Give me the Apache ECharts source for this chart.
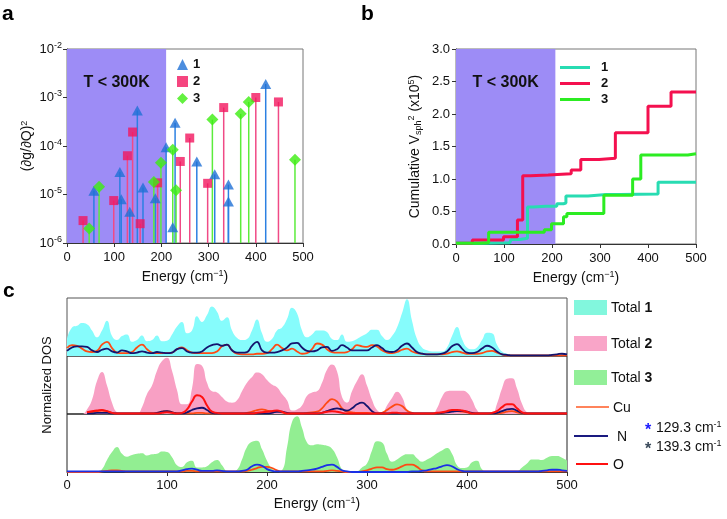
<!DOCTYPE html>
<html><head><meta charset="utf-8">
<script src="https://cdn.jsdelivr.net/npm/echarts@6/dist/echarts.min.js"></script>
<style>html,body{margin:0;padding:0;background:#fff}#c{width:727px;height:519px}</style>
</head><body><div id="c"></div>
<script>
const FONT = 'Liberation Sans, Arial, sans-serif';

// ---------- Panel a: (dg/dQ)^2 stems ----------
const a1Energy = [57,112,115,133,149,161,187,210,224,229,275,313,342,342,421];
const a1Value  = [1.2e-5,2.9e-5,8e-6,4.4e-6,5.4e-4,1.4e-5,8.4e-6,9.4e-5,2.1e-6,3e-4,4.8e-5,2.6e-5,1.6e-5,7.2e-6,1.9e-3];
const a2Energy = [34,99,128,139,155,192,240,260,298,332,400,448];
const a2Value  = [2.9e-6,7.5e-6,6.3e-5,1.94e-4,2.5e-6,1.74e-5,4.8e-5,1.46e-4,1.7e-5,6.2e-4,1.0e-3,8.1e-4];
const a3Energy = [47,68,184,199,224,231,308,368,385,483];
const a3Value  = [2e-6,1.44e-5,1.8e-5,4.5e-5,8.4e-5,1.23e-5,3.5e-4,4.6e-4,8.1e-4,5.2e-5];
const aYMin = 1e-6, aYMax = 1e-2;
const shadeEndA = 210;

// ---------- Panel b: cumulative Vsph^2 ----------
const b1Energy = [0,57,112,115,133,149,161,187,210,224,229,275,313,342,421,500];
const b1Cum    = [0.01,0.02,0.05,0.07,0.09,0.57,0.58,0.58,0.62,0.63,0.74,0.76,0.76,0.77,0.95,0.95];
const b2Energy = [0,34,99,128,139,155,192,240,260,298,332,400,448,500];
const b2Cum    = [0.01,0.06,0.11,0.37,1.05,1.06,1.08,1.14,1.30,1.32,1.71,2.12,2.34,2.34];
const b3Energy = [0,47,68,184,199,224,231,308,368,385,483,500];
const b3Cum    = [0.01,0.02,0.18,0.22,0.31,0.42,0.47,0.75,1.00,1.37,1.39,1.39];
const shadeEndB = 207;

// ---------- Panel c: normalized DOS ----------
const dosEnergy = [0,5,10,15,20,25,30,35,40,45,50,55,60,65,70,75,80,85,90,95,100,105,110,115,120,125,130,135,140,145,150,155,160,165,170,175,180,185,190,195,200,205,210,215,220,225,230,235,240,245,250,255,260,265,270,275,280,285,290,295,300,305,310,315,320,325,330,335,340,345,350,355,360,365,370,375,380,385,390,395,400,405,410,415,420,425,430,435,440,445,450,455,460,465,470,475,480,485,490,495,500];
const total1 = [0.30,0.50,0.53,0.58,0.56,0.45,0.33,0.45,0.62,0.35,0.28,0.35,0.38,0.25,0.28,0.36,0.26,0.28,0.36,0.26,0.27,0.38,0.52,0.60,0.40,0.45,0.70,0.60,0.72,0.87,0.78,0.62,0.68,0.45,0.32,0.28,0.30,0.45,0.64,0.40,0.25,0.30,0.45,0.50,0.65,0.85,0.75,0.45,0.33,0.38,0.45,0.45,0.42,0.30,0.28,0.38,0.25,0.26,0.30,0.35,0.40,0.46,0.46,0.35,0.28,0.35,0.50,0.75,1.00,0.62,0.30,0.15,0.10,0.08,0.08,0.08,0.15,0.35,0.51,0.30,0.15,0.12,0.15,0.28,0.41,0.40,0.20,0.08,0.04,0.02,0.01,0.01,0.01,0.01,0.01,0.01,0.01,0.01,0.01,0.01,0.01];
const total2 = [0,0,0,0,0.08,0.25,0.58,0.74,0.50,0.20,0.03,0,0,0,0,0.12,0.35,0.50,0.76,0.93,0.99,0.76,0.42,0.17,0.17,0.45,0.88,0.85,0.55,0.40,0.38,0.30,0.22,0.20,0.24,0.40,0.55,0.65,0.73,0.70,0.60,0.52,0.47,0.35,0.24,0.06,0.08,0.15,0.32,0.38,0.40,0.55,0.78,0.87,0.75,0.30,0.20,0.40,0.58,0.70,0.50,0.25,0.07,0.02,0.15,0.28,0.39,0.30,0.08,0,0,0,0,0,0.10,0.30,0.40,0.41,0.41,0.41,0.38,0.25,0.07,0,0,0,0.18,0.45,0.62,0.63,0.45,0.18,0.03,0,0,0,0,0,0,0,0];
const total3 = [0,0,0,0,0,0,0,0.05,0.21,0.35,0.44,0.32,0.27,0.30,0.32,0.33,0.29,0.31,0.32,0.36,0.35,0.26,0.12,0.09,0.17,0.20,0.08,0.08,0.10,0.17,0.21,0.12,0.02,0.01,0.04,0.22,0.44,0.53,0.55,0.40,0.20,0.06,0.01,0.03,0.43,0.88,0.98,0.78,0.52,0.47,0.49,0.48,0.46,0.41,0.26,0.05,0,0,0.01,0.08,0.15,0.38,0.54,0.52,0.32,0.18,0.22,0.28,0.31,0.31,0.24,0.18,0.22,0.27,0.33,0.38,0.42,0.32,0.12,0.07,0.08,0.17,0.20,0.05,0,0,0,0,0,0,0.01,0.08,0.15,0.22,0.22,0.21,0.25,0.28,0.28,0.25,0.20];
const cu1 = [0.14,0.19,0.18,0.13,0.08,0.07,0.09,0.20,0.25,0.14,0.06,0.05,0.05,0.07,0.15,0.20,0.12,0.06,0.05,0.05,0.05,0.06,0.12,0.15,0.10,0.06,0.05,0.05,0.05,0.05,0.08,0.17,0.20,0.10,0.04,0.03,0.03,0.03,0.04,0.04,0.05,0.12,0.20,0.14,0.10,0.13,0.08,0.04,0.05,0.12,0.22,0.20,0.12,0.07,0.06,0.06,0.07,0.12,0.19,0.17,0.16,0.19,0.17,0.10,0.06,0.05,0.07,0.11,0.13,0.08,0.05,0.04,0.03,0.03,0.03,0.03,0.04,0.07,0.08,0.06,0.04,0.04,0.04,0.05,0.08,0.09,0.06,0.03,0.01,0.01,0.01,0.01,0.01,0.01,0.01,0.01,0.01,0.01,0.01,0.01,0.01];
const n1 = [0.09,0.15,0.17,0.17,0.16,0.10,0.07,0.11,0.13,0.08,0.06,0.10,0.08,0.05,0.06,0.08,0.06,0.05,0.07,0.06,0.05,0.06,0.12,0.14,0.08,0.06,0.06,0.08,0.15,0.19,0.21,0.18,0.20,0.10,0.06,0.06,0.07,0.18,0.25,0.10,0.06,0.06,0.07,0.10,0.15,0.22,0.23,0.15,0.09,0.08,0.10,0.15,0.16,0.09,0.12,0.19,0.15,0.10,0.10,0.10,0.10,0.15,0.19,0.14,0.08,0.07,0.10,0.18,0.22,0.15,0.07,0.04,0.03,0.03,0.03,0.04,0.08,0.17,0.21,0.13,0.06,0.05,0.07,0.13,0.18,0.15,0.08,0.03,0.02,0.01,0.01,0.01,0.01,0.01,0.01,0.01,0.01,0.02,0.03,0.04,0.03];
const cu2 = [null,null,null,null,0.02,0.03,0.05,0.06,0.05,0.02,0.01,0.01,0.01,0.01,0.01,0.01,0.01,0.01,0.02,0.04,0.05,0.03,0.01,0.01,0.01,0.01,0.02,0.02,0.01,0.01,0.01,0.01,0.01,0.01,0.01,0.01,0.02,0.04,0.07,0.08,0.06,0.05,0.05,0.03,0.01,0.01,0.01,0.01,0.02,0.03,0.04,0.10,0.20,0.26,0.22,0.10,0.04,0.03,0.02,0.02,0.02,0.01,0.01,0.02,0.07,0.13,0.17,0.14,0.06,0.02,0.01,0.01,0.01,0.01,0.01,0.02,0.04,0.05,0.05,0.04,0.03,0.01,0.01,0.01,0.01,0.01,0.01,0.02,0.04,0.05,0.03,0.01,0.01,0.01,0.01,0.01,0.01,0.01,0.01,0.01,0.01];
const o2 = [null,null,null,null,0.03,0.05,0.06,0.07,0.05,0.02,0.01,0.01,0.01,0.01,0.01,0.01,0.01,0.01,0.01,0.02,0.03,0.02,0.01,0.02,0.08,0.22,0.33,0.30,0.15,0.04,0.02,0.01,0.01,0.01,0.01,0.01,0.01,0.01,0.02,0.03,0.04,0.05,0.06,0.04,0.01,0.01,0.01,0.01,0.01,0.01,0.01,0.02,0.04,0.05,0.04,0.02,0.01,0.01,0.01,0.01,0.01,0.01,0.01,0.01,0.01,0.02,0.02,0.01,0.01,0.01,0.01,0.01,0.01,0.01,0.02,0.03,0.05,0.07,0.07,0.06,0.04,0.01,0.01,0.01,0.01,0.02,0.05,0.12,0.17,0.17,0.10,0.03,0.01,0.01,0.01,0.01,0.01,0.01,0.01,0.01,0.01];
const n2 = [null,null,null,null,0.01,0.01,0.02,0.02,0.02,0.01,0.01,0.01,0.01,0.01,0.01,0.01,0.01,0.01,0.02,0.04,0.05,0.03,0.01,0.01,0.03,0.07,0.10,0.11,0.07,0.02,0.01,0.01,0.01,0.01,0.01,0.01,0.01,0.01,0.01,0.01,0.01,0.02,0.04,0.04,0.02,0.01,0.01,0.01,0.01,0.01,0.01,0.02,0.05,0.08,0.10,0.08,0.06,0.10,0.17,0.20,0.14,0.05,0.01,0.01,0.01,0.01,0.01,0.01,0.01,0.01,0.01,0.01,0.01,0.01,0.01,0.02,0.03,0.04,0.05,0.05,0.04,0.02,0.01,0.01,0.01,0.01,0.02,0.05,0.08,0.09,0.06,0.02,0.01,0.01,0.01,0.01,0.01,0.01,0.01,0.01,0.01];
const cu3 = [0,0,0,0,0,0,0,0.01,0.02,0.03,0.03,0.02,0.01,0.01,0.01,0.01,0.01,0.01,0.01,0.01,0.01,0.01,0.01,0.01,0.02,0.02,0.01,0.01,0.01,0.01,0.01,0.01,0.01,0.01,0.01,0.01,0.02,0.04,0.07,0.09,0.09,0.07,0.03,0.01,0.01,0.01,0.01,0.01,0.01,0.01,0.01,0.01,0.02,0.03,0.02,0.01,0,0,0,0.01,0.03,0.06,0.08,0.08,0.05,0.04,0.06,0.10,0.13,0.13,0.09,0.03,0.01,0.01,0.01,0.01,0.01,0.01,0.01,0.01,0.01,0.01,0.01,0.01,0.01,0.01,0.01,0.01,0.01,0.01,0.01,0.01,0.01,0.01,0.01,0.01,0.01,0.01,0.01,0.01,0.01];
const n3 = [0.01,0.01,0.01,0.01,0.01,0.01,0.01,0.01,0.01,0.01,0.01,0.01,0.01,0.01,0.01,0.01,0.01,0.01,0.01,0.01,0.01,0.01,0.01,0.03,0.05,0.06,0.04,0.02,0.02,0.02,0.03,0.02,0.01,0.01,0.01,0.02,0.04,0.10,0.13,0.11,0.05,0.02,0.01,0.01,0.01,0.01,0.01,0.02,0.03,0.04,0.06,0.09,0.12,0.13,0.09,0.03,0.01,0,0,0,0,0,0,0,0,0,0,0,0,0.01,0.01,0.02,0.03,0.05,0.07,0.10,0.12,0.10,0.05,0.02,0.01,0.01,0.01,0.01,0.01,0.01,0.01,0.01,0.01,0.01,0.01,0.01,0.01,0.01,0.01,0.02,0.03,0.04,0.04,0.03,0.02];
const starEnergy = [131, 135];
const starLevel  = [0.60, 0.45];

// ---------- helpers ----------
const zip = (xs, ys) => xs.map((x, i) => [x, ys[i]]);
const C = {
  a1:'#1f70d6', a1s:'#2c80e2', a2:'#f2175f', a2s:'#f04a86', a3:'#3cee10', a3s:'#5cec3c',
  b1:'#28dcb2', b2:'#f4104f', b3:'#2cec22', shade:'#9d8cf6',
  t1:'#86fcfc', t2:'#f8a0c4', t3:'#92ee92', cu:'#ff4a14', n:'#14146e', o:'#ff1010', n3:'#1a30e6'
};
const supRich = {
  s:{fontSize:9, verticalAlign:'top', lineHeight:9, fontFamily:FONT, color:'#111'},
  u:{fontSize:9, verticalAlign:'bottom', lineHeight:9, fontFamily:FONT, color:'#111'}
};
const energyName = 'Energy (cm{s|\u22121})';
const SMOOTH = 0.5;

function stemSeries(name, xs, ys, color){
  return {type:'custom', name:name, xAxisIndex:0, yAxisIndex:0, z:3, silent:true,
    data: zip(xs, ys), encode:{x:0, y:1},
    renderItem(params, api){
      const x = api.value(0), y = api.value(1);
      const p1 = api.coord([x, y]);
      const p0 = api.coord([x, aYMin]);
      return {type:'line', shape:{x1:p0[0], y1:p0[1], x2:p1[0], y2:p1[1]},
        style:{stroke:color, lineWidth:1.5}};
    }};
}
function areaSeries(idx, data, color){
  return {type:'line', xAxisIndex:idx, yAxisIndex:idx, data: zip(dosEnergy, data), smooth:SMOOTH,
    symbol:'none', lineStyle:{width:0}, areaStyle:{color:color, opacity:1}, z:2, silent:true};
}
function pdosSeries(idx, data, color, w){
  return {type:'line', xAxisIndex:idx, yAxisIndex:idx, data: zip(dosEnergy, data), smooth:SMOOTH,
    symbol:'none', lineStyle:{width:w || 1.8, color:color}, z:3, silent:true, connectNulls:false};
}
const axisText = {fontFamily:FONT, fontSize:13, color:'#111'};
function xAxisFull(grid){
  return {type:'value', gridIndex:grid, min:0, max:500, interval:100,
    axisLine:{show:true, lineStyle:{color:'#333', width:1}}, axisTick:{show:true, length:4, lineStyle:{color:'#333'}},
    axisLabel:Object.assign({margin:8}, axisText), splitLine:{show:false},
    name:energyName, nameLocation:'middle', nameGap:26,
    nameTextStyle:{fontFamily:FONT, fontSize:14, color:'#111', lineHeight:16, rich:supRich}};
}
function hiddenX(grid){
  return {type:'value', gridIndex:grid, min:0, max:500, show:false};
}
const tLabel = {show:true, position:'insideTop', distance:26, formatter:'T < 300K',
  fontFamily:FONT, fontSize:16, fontWeight:'bold', color:'#111'};

const option = {
  animation:false,
  backgroundColor:'#fff',
  grid:[
    {left:67, top:49, width:236, height:194, show:true, borderColor:'#777', borderWidth:1},
    {left:456, top:49, width:240, height:195, show:true, borderColor:'#777', borderWidth:1},
    {left:67, top:298, width:500, height:58, show:true, borderColor:'#555', borderWidth:1},
    {left:67, top:356, width:500, height:58, show:true, borderColor:'#222', borderWidth:1},
    {left:67, top:414, width:500, height:58, show:true, borderColor:'#222', borderWidth:1}
  ],
  xAxis:[ xAxisFull(0), xAxisFull(1), hiddenX(2), hiddenX(3),
    Object.assign(xAxisFull(4), {nameGap:24, axisLabel:Object.assign({margin:7}, axisText)}) ],
  yAxis:[
    {type:'log', logBase:10, gridIndex:0, min:aYMin, max:aYMax,
     axisLine:{show:true, lineStyle:{color:'#333'}}, axisTick:{show:true, length:4, lineStyle:{color:'#333'}},
     splitLine:{show:false},
     axisLabel:Object.assign({margin:5, lineHeight:16, rich:supRich,
       formatter: v => '10{s|' + Math.round(Math.log10(v)) + '}'}, axisText),
     name:'(\u2202g/\u2202Q){s|2}', nameLocation:'middle', nameGap:30, nameRotate:90,
     nameTextStyle:{fontFamily:FONT, fontSize:14, color:'#111', lineHeight:16, rich:supRich}},
    {type:'value', gridIndex:1, min:0, max:3, interval:0.5,
     axisLine:{show:true, lineStyle:{color:'#333'}}, axisTick:{show:true, length:4, lineStyle:{color:'#333'}},
     splitLine:{show:false},
     axisLabel:Object.assign({margin:6, formatter: v => v.toFixed(1)}, axisText),
     name:'Cumulative V{u|sph}{s|2} (x10{s|5})', nameLocation:'middle', nameGap:33, nameRotate:90,
     nameTextStyle:{fontFamily:FONT, fontSize:14, color:'#111', lineHeight:16, rich:supRich}},
    {type:'value', gridIndex:2, min:0, max:1.02, show:false},
    {type:'value', gridIndex:3, min:0, max:1.02, axisLine:{show:false}, axisTick:{show:false},
     axisLabel:{show:false}, splitLine:{show:false},
     name:'Normalized DOS', nameLocation:'middle', nameGap:13, nameRotate:90,
     nameTextStyle:{fontFamily:FONT, fontSize:13, color:'#111'}},
    {type:'value', gridIndex:4, min:0, max:1.02, show:false}
  ],
  legend:[
    {data:['1','2','3'], orient:'vertical', left:172, top:53, itemWidth:11, itemHeight:11, itemGap:4,
     textStyle:{fontFamily:FONT, fontSize:13, fontWeight:'bold', color:'#111'}, selectedMode:false},
    {data:['b1','b2','b3'], orient:'vertical', left:555, top:55, itemWidth:30, itemHeight:3, itemGap:1,
     icon:'rect', formatter: n => n.slice(1),
     textStyle:{fontFamily:FONT, fontSize:13, fontWeight:'bold', color:'#111', padding:[0,0,0,6], lineHeight:15}, selectedMode:false}
  ],
  series:[
    // panel a
    {type:'line', name:'shadeA', xAxisIndex:0, yAxisIndex:0, data:[], z:1, silent:true,
     markArea:{silent:true, itemStyle:{color:C.shade, opacity:1}, label:tLabel,
       data:[[{xAxis:0}, {xAxis:shadeEndA}]]}},
    stemSeries('stem1', a1Energy, a1Value, C.a1s),
    stemSeries('stem2', a2Energy, a2Value, C.a2s),
    stemSeries('stem3', a3Energy, a3Value, C.a3s),
    {type:'scatter', name:'1', xAxisIndex:0, yAxisIndex:0, symbol:'triangle', symbolSize:[11,10],
     itemStyle:{color:C.a1}, z:4, data:zip(a1Energy, a1Value)},
    {type:'scatter', name:'2', xAxisIndex:0, yAxisIndex:0, symbol:'rect', symbolSize:9,
     itemStyle:{color:C.a2}, z:4, data:zip(a2Energy, a2Value)},
    {type:'scatter', name:'3', xAxisIndex:0, yAxisIndex:0, symbol:'diamond', symbolSize:[12,12],
     itemStyle:{color:C.a3}, z:4, data:zip(a3Energy, a3Value)},
    // panel b
    {type:'line', name:'shadeB', xAxisIndex:1, yAxisIndex:1, data:[], z:1, silent:true,
     markArea:{silent:true, itemStyle:{color:C.shade, opacity:1}, label:tLabel,
       data:[[{xAxis:0}, {xAxis:shadeEndB}]]}},
    {type:'line', name:'b1', xAxisIndex:1, yAxisIndex:1, step:'end', symbol:'none',
     lineStyle:{width:3, color:C.b1}, itemStyle:{color:C.b1}, z:3, data:zip(b1Energy, b1Cum)},
    {type:'line', name:'b2', xAxisIndex:1, yAxisIndex:1, step:'end', symbol:'none',
     lineStyle:{width:3, color:C.b2}, itemStyle:{color:C.b2}, z:3, data:zip(b2Energy, b2Cum)},
    {type:'line', name:'b3', xAxisIndex:1, yAxisIndex:1, step:'end', symbol:'none',
     lineStyle:{width:3, color:C.b3}, itemStyle:{color:C.b3}, z:3, data:zip(b3Energy, b3Cum)},
    // panel c
    areaSeries(2, total1, C.t1),
    pdosSeries(2, cu1, C.cu), pdosSeries(2, n1, C.n),
    areaSeries(3, total2, C.t2),
    pdosSeries(3, cu2, C.cu), pdosSeries(3, n2, C.n), pdosSeries(3, o2, C.o, 2),
    areaSeries(4, total3, C.t3),
    pdosSeries(4, cu3, C.cu), pdosSeries(4, n3, C.n3),
    {type:'scatter', xAxisIndex:3, yAxisIndex:3, symbolSize:1, itemStyle:{opacity:0}, z:5, silent:true,
     data:[
       {value:[starEnergy[0], starLevel[0]], label:{color:'#1a1aff'}},
       {value:[starEnergy[1], starLevel[1]], label:{color:'#333'}}
     ],
     label:{show:true, position:'inside', formatter:'*', fontFamily:FONT, fontSize:18, fontWeight:'bold'}}
  ],
  graphic:[
    {type:'text', left:2, top:4, style:{text:'a', font:'bold 21px ' + FONT, fill:'#000'}},
    {type:'text', left:361, top:4, style:{text:'b', font:'bold 21px ' + FONT, fill:'#000'}},
    {type:'text', left:3, top:281, style:{text:'c', font:'bold 21px ' + FONT, fill:'#000'}},
    {type:'rect', shape:{x:574, y:300, width:33, height:15}, style:{fill:'#82f7dd'}},
    {type:'rect', shape:{x:574, y:336, width:33, height:15}, style:{fill:'#f9a5c8'}},
    {type:'rect', shape:{x:574, y:370, width:33, height:15}, style:{fill:'#92ef98'}},
    {type:'text', x:611, y:308, style:{text:'Total {b|1}', fontFamily:FONT, fontSize:14, fill:'#111', verticalAlign:'middle',
      rich:{b:{fontFamily:FONT, fontSize:14, fontWeight:'bold', fill:'#111'}}}},
    {type:'text', x:611, y:344, style:{text:'Total {b|2}', fontFamily:FONT, fontSize:14, fill:'#111', verticalAlign:'middle',
      rich:{b:{fontFamily:FONT, fontSize:14, fontWeight:'bold', fill:'#111'}}}},
    {type:'text', x:611, y:378, style:{text:'Total {b|3}', fontFamily:FONT, fontSize:14, fill:'#111', verticalAlign:'middle',
      rich:{b:{fontFamily:FONT, fontSize:14, fontWeight:'bold', fill:'#111'}}}},
    {type:'line', shape:{x1:576, y1:407, x2:609, y2:407}, style:{stroke:'#ff5a24', lineWidth:1.5}},
    {type:'line', shape:{x1:574, y1:436, x2:608, y2:436}, style:{stroke:'#1a1a80', lineWidth:2}},
    {type:'line', shape:{x1:576, y1:464, x2:608, y2:464}, style:{stroke:'#ff1010', lineWidth:2}},
    {type:'text', x:613, y:408, style:{text:'Cu', fontFamily:FONT, fontSize:14, fill:'#111', verticalAlign:'middle'}},
    {type:'text', x:617, y:437, style:{text:'N', fontFamily:FONT, fontSize:14, fill:'#111', verticalAlign:'middle'}},
    {type:'text', x:613, y:465, style:{text:'O', fontFamily:FONT, fontSize:14, fill:'#111', verticalAlign:'middle'}},
    {type:'text', x:645, y:431, style:{text:'*', fontFamily:FONT, fontSize:16, fontWeight:'bold', fill:'#1a1aff', verticalAlign:'middle'}},
    {type:'text', x:645, y:450, style:{text:'*', fontFamily:FONT, fontSize:16, fontWeight:'bold', fill:'#3a4a5a', verticalAlign:'middle'}},
    {type:'text', x:656, y:428, style:{text:'129.3 cm{s|-1}', fontFamily:FONT, fontSize:14, fill:'#111', verticalAlign:'middle', lineHeight:16,
      rich:{s:{fontFamily:FONT, fontSize:9, verticalAlign:'top', lineHeight:9, fill:'#111'}}}},
    {type:'text', x:656, y:447, style:{text:'139.3 cm{s|-1}', fontFamily:FONT, fontSize:14, fill:'#111', verticalAlign:'middle', lineHeight:16,
      rich:{s:{fontFamily:FONT, fontSize:9, verticalAlign:'top', lineHeight:9, fill:'#111'}}}}
  ]
};
const chart = echarts.init(document.getElementById('c'), null, {renderer:'canvas'});
chart.setOption(option);
</script></body></html>
